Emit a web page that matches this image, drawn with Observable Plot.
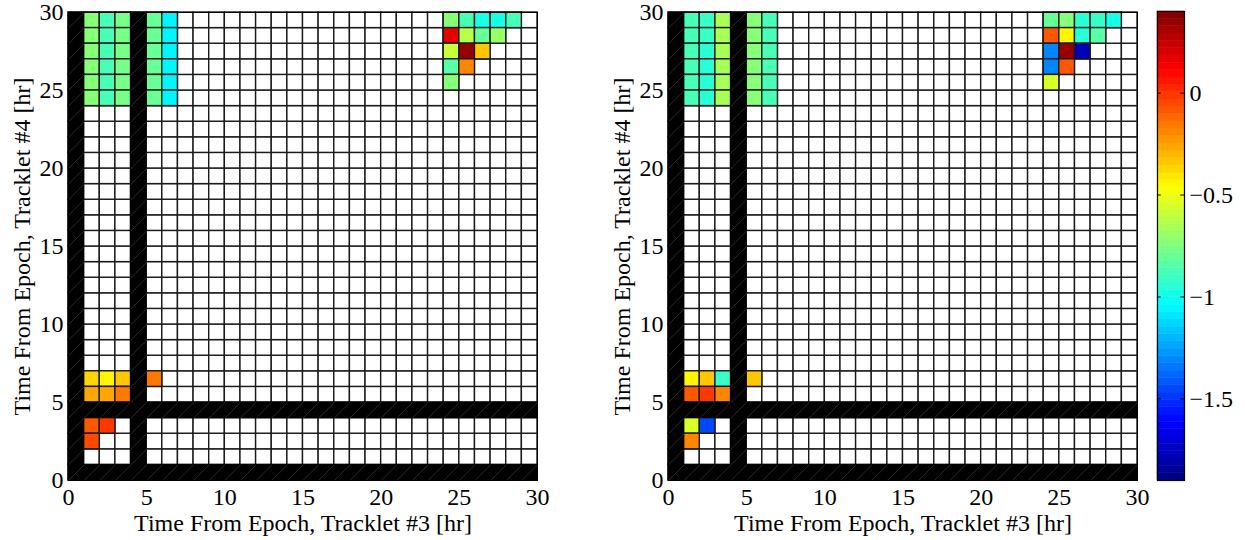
<!DOCTYPE html>
<html><head><meta charset="utf-8">
<script src="https://cdn.jsdelivr.net/npm/d3@7"></script>
<script src="https://cdn.jsdelivr.net/npm/@observablehq/plot@0.6"></script>
<style>
body{margin:0;background:#fff;}
#wrap{position:relative;width:1245px;height:540px;overflow:hidden;background:#fff;}
#wrap > div{position:absolute;top:0;}
svg text{font-family:'Liberation Serif','Times New Roman',serif;}
</style></head><body>
<div id="wrap"><div id="p1" style="left:0"></div><div id="p2" style="left:600px"></div><div id="cb" style="left:1140px"></div></div>
<script>
// ---- data ----
const gridSize = 30;                 // 30 x 30 one-hour cells
const nanCols = [0, 4];              // tracklet #3 epochs with no data (black)
const nanRows = [0, 4];              // tracklet #4 epochs with no data (black)
const xTicks = [0, 5, 10, 15, 20, 25, 30];
const yTicks = [0, 5, 10, 15, 20, 25, 30];
const cbTicks = [0, -0.5, -1, -1.5];
const colorDomain = [-1.9, 0.4];
const xLabel = "Time From Epoch, Tracklet #3 [hr]";
const yLabel = "Time From Epoch, Tracklet #4 [hr]";

// [x cell, y cell, value]
const leftCells = [
  [1,29,-0.74],[2,29,-0.88],[3,29,-0.78],[5,29,-0.81],[6,29,-1.06],
  [1,28,-0.74],[2,28,-0.88],[3,28,-0.78],[5,28,-0.81],[6,28,-1.06],
  [1,27,-0.74],[2,27,-0.88],[3,27,-0.78],[5,27,-0.81],[6,27,-1.06],
  [1,26,-0.74],[2,26,-0.88],[3,26,-0.78],[5,26,-0.81],[6,26,-1.06],
  [1,25,-0.74],[2,25,-0.88],[3,25,-0.78],[5,25,-0.81],[6,25,-1.06],
  [1,24,-0.74],[2,24,-0.88],[3,24,-0.78],[5,24,-0.81],[6,24,-1.06],
  [24,29,-0.75],[25,29,-0.89],[26,29,-1.0],[27,29,-1.0],[28,29,-0.89],
  [24,28,0.18],[25,28,-0.64],[26,28,-0.80],[27,28,-0.71],
  [24,27,-0.60],[25,27,0.36],[26,27,-0.32],
  [24,26,-0.85],[25,26,-0.21],
  [24,25,-0.74],
  [1,6,-0.39],[2,6,-0.46],[3,6,-0.35],[5,6,-0.17],
  [1,5,-0.28],[2,5,-0.28],[3,5,-0.17],
  [1,3,-0.10],[2,3,-0.03],
  [1,2,-0.065]
];
const rightCells = [
  [1,29,-0.87],[2,29,-0.92],[3,29,-0.67],[5,29,-0.74],[6,29,-0.87],
  [1,28,-0.87],[2,28,-0.92],[3,28,-0.67],[5,28,-0.74],[6,28,-0.87],
  [1,27,-0.87],[2,27,-0.96],[3,27,-0.67],[5,27,-0.74],[6,27,-0.87],
  [1,26,-0.87],[2,26,-0.96],[3,26,-0.67],[5,26,-0.74],[6,26,-0.87],
  [1,25,-0.87],[2,25,-0.96],[3,25,-0.67],[5,25,-0.74],[6,25,-0.87],
  [1,24,-0.87],[2,24,-0.96],[3,24,-0.67],[5,24,-0.74],[6,24,-0.87],
  [24,29,-0.81],[25,29,-0.74],[26,29,-0.96],[27,29,-0.92],[28,29,-1.0],
  [24,28,-0.10],[25,28,-0.46],[26,28,-0.96],[27,28,-0.85],
  [24,27,-1.32],[25,27,0.36],[26,27,-1.78],
  [24,26,-1.32],[25,26,-0.10],
  [24,25,-0.55],
  [1,6,-0.46],[2,6,-0.35],[3,6,-0.92],[5,6,-0.32],
  [1,5,-0.10],[2,5,0.0],[3,5,-0.21],
  [1,3,-0.55],[2,3,-1.46],
  [1,2,-0.21]
];

// ---- MATLAB jet(64) interpolator ----
function jet(t) {
  const i = Math.min(63, Math.max(0, Math.floor(t * 64)));
  const u = (i + 0.5) / 64;
  const c = v => Math.max(0, Math.min(1, v));
  const r = c(Math.min(4*u - 1.5, -4*u + 4.5));
  const g = c(Math.min(4*u - 0.5, -4*u + 3.5));
  const b = c(Math.min(4*u + 0.5, -4*u + 2.5));
  return d3.rgb(r*255, g*255, b*255).formatHex();
}
const colorOpts = {type: "linear", domain: colorDomain, interpolate: jet, clamp: true};
const font = "'Liberation Serif', 'Times New Roman', serif";
const gridStroke = "#1a1a1a";

const allCells = d3.cross(d3.range(gridSize), d3.range(gridSize)).map(([x, y]) => ({x, y}));
const nanCells = allCells.filter(d => nanCols.includes(d.x) || nanRows.includes(d.y));

function heat(cells) {
  return Plot.plot({
    width: 560, height: 540,
    marginLeft: 68, marginRight: 23, marginTop: 12, marginBottom: 60,
    x: {domain: [0, gridSize]},
    y: {domain: [0, gridSize]},
    color: colorOpts,
    style: {fontFamily: font, fontSize: "24px", color: "#000", background: "transparent"},
    marks: [
      Plot.rect(allCells, {x1: "x", x2: d => d.x + 1, y1: "y", y2: d => d.y + 1, fill: "white", stroke: gridStroke, strokeWidth: 1.4}),
      Plot.rect(cells, {x1: d => d[0], x2: d => d[0] + 1, y1: d => d[1], y2: d => d[1] + 1, fill: d => d[2], stroke: gridStroke, strokeWidth: 1.4}),
      Plot.rect(nanCells, {x1: "x", x2: d => d.x + 1, y1: "y", y2: d => d.y + 1, fill: "black", stroke: "black", strokeWidth: 1}),
      Plot.link(nanCells, {x1: "x", y1: "y", x2: d => d.x + 1, y2: d => d.y + 1, stroke: "#777", strokeWidth: 0.5, strokeOpacity: 0.7}),
      Plot.frame({stroke: "black", strokeWidth: 1}),
      Plot.axisX({ticks: xTicks, tickSize: 0, tickPadding: 7, fontFamily: font, fontSize: 24,
        label: xLabel, labelAnchor: "center", labelArrow: "none", labelOffset: 50}),
      Plot.axisY({ticks: yTicks, tickSize: 0, tickPadding: 5, fontFamily: font, fontSize: 24,
        label: yLabel, labelAnchor: "center", labelArrow: "none", labelOffset: 56})
    ]
  });
}

document.getElementById("p1").append(heat(leftCells));
document.getElementById("p2").append(heat(rightCells));

// ---- colorbar ----
const [lo, hi] = colorDomain;
const bands = d3.range(64).map(i => ({y1: lo + i*(hi-lo)/64, y2: lo + (i+1)*(hi-lo)/64, v: lo + (i+0.5)*(hi-lo)/64}));
const cb = Plot.plot({
  width: 105, height: 540,
  marginLeft: 17, marginRight: 61, marginTop: 11, marginBottom: 60,
  x: {domain: [0, 1], axis: null},
  y: {domain: colorDomain},
  color: colorOpts,
  style: {fontFamily: font, fontSize: "24px", color: "#000", background: "transparent"},
  marks: [
    Plot.rect(bands, {x1: 0, x2: 1, y1: "y1", y2: "y2", fill: "v", stroke: "v", strokeWidth: 0.5}),
    Plot.ruleY(cbTicks, {x1: 0, x2: 0.14, stroke: "black"}),
    Plot.ruleY(cbTicks, {x1: 0.86, x2: 1, stroke: "black"}),
    Plot.frame({stroke: "black", strokeWidth: 1.2}),
    Plot.axisY({anchor: "right", ticks: cbTicks, tickSize: 0, tickPadding: 5, label: null, fontFamily: font, fontSize: 24,
      tickFormat: d => d === 0 ? "0" : "\u2212" + Math.abs(d)})
  ]
});
document.getElementById("cb").append(cb);
</script>
</body></html>
